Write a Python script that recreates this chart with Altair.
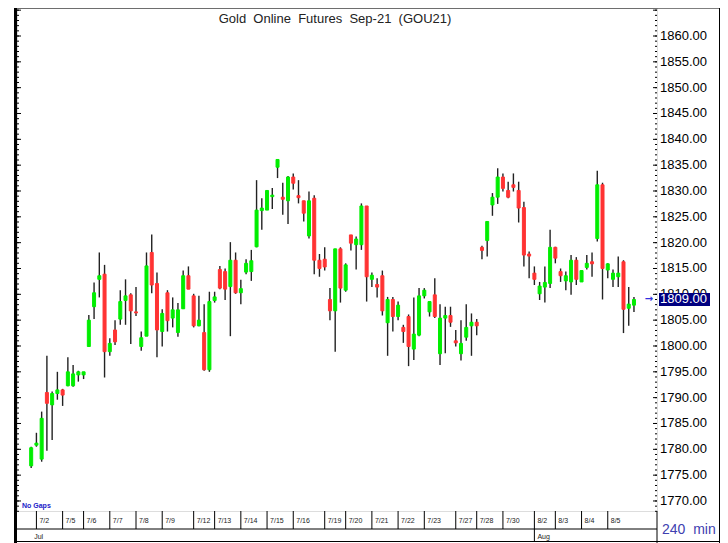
import altair as alt
import pandas as pd

# ---- data (240 min bars) ----
opens = [1776.8, 1780.8, 1778.1, 1791.0, 1788.6, 1790.8, 1791.5, 1792.3, 1792.3, 1794.4,
         1794.4, 1799.9, 1807.6, 1812.9, 1813.9, 1798.9, 1803.1, 1805.2, 1808.8, 1809.9,
         1806.6, 1799.9, 1801.9, 1818.1, 1812.1, 1802.8, 1810.3, 1805.4, 1802.6, 1807.2,
         1813.6, 1809.7, 1803.9, 1802.6, 1795.4, 1808.8, 1814.8, 1814.4, 1811.5, 1816.6,
         1810.3, 1814.3, 1814.4, 1819.2, 1826.2, 1826.3, 1828.9, 1834.6, 1828.8, 1828.1,
         1832.7, 1829.1, 1828.1, 1821.3, 1828.6, 1816.6, 1816.8, 1809.0, 1806.8, 1818.8,
         1810.8, 1821.5, 1819.6, 1819.6, 1827.1, 1812.9, 1811.9, 1813.6, 1804.5, 1809.0,
         1805.7, 1803.6, 1805.7, 1799.4, 1802.1, 1809.7, 1806.6, 1809.9, 1798.5, 1805.4,
         1805.9, 1801.0, 1798.5, 1801.7, 1803.9, 1804.6, 1819.1, 1820.4, 1827.3, 1828.8,
         1832.7, 1830.1, 1831.2, 1830.1, 1826.8, 1817.8, 1814.1, 1810.1, 1811.4, 1812.1,
         1819.1, 1814.4, 1812.6, 1812.4, 1816.6, 1812.4, 1815.2, 1816.3, 1820.8, 1831.2,
         1814.7, 1812.9, 1813.4, 1816.3, 1807.3, 1807.9]
highs = [1780.5, 1783.2, 1787.3, 1798.1, 1791.2, 1795.0, 1791.7, 1797.8, 1796.3, 1795.2,
         1795.0, 1806.0, 1812.3, 1818.1, 1815.7, 1801.5, 1805.0, 1810.8, 1812.9, 1810.2,
         1811.4, 1802.8, 1818.1, 1821.6, 1814.2, 1807.1, 1810.8, 1809.4, 1808.3, 1814.6,
         1815.4, 1810.1, 1809.7, 1808.1, 1810.5, 1810.5, 1815.5, 1815.0, 1820.1, 1818.1,
         1812.8, 1816.8, 1818.6, 1832.1, 1828.6, 1830.2, 1830.6, 1836.1, 1831.6, 1832.9,
         1833.4, 1832.1, 1828.1, 1829.9, 1829.2, 1817.8, 1819.1, 1811.2, 1818.8, 1819.1,
         1816.0, 1821.5, 1821.2, 1827.6, 1827.1, 1814.2, 1813.1, 1814.6, 1809.5, 1809.5,
         1808.6, 1804.1, 1806.1, 1809.4, 1811.2, 1811.2, 1808.6, 1813.1, 1808.1, 1807.6,
         1807.6, 1803.1, 1805.0, 1808.1, 1806.3, 1805.2, 1819.4, 1824.1, 1829.6, 1834.4,
         1833.4, 1831.8, 1833.4, 1831.8, 1827.9, 1818.3, 1815.4, 1812.4, 1815.4, 1822.5,
         1819.2, 1815.0, 1814.4, 1817.6, 1817.2, 1814.6, 1817.6, 1818.1, 1833.9, 1831.6,
         1816.0, 1814.8, 1817.3, 1816.6, 1811.4, 1809.5]
lows = [1776.4, 1780.5, 1777.6, 1779.7, 1781.8, 1789.6, 1788.4, 1792.2, 1792.1, 1793.1,
        1793.6, 1799.9, 1805.2, 1809.4, 1793.9, 1798.1, 1800.2, 1804.1, 1804.1, 1800.4,
        1805.8, 1799.1, 1801.9, 1810.2, 1797.8, 1799.9, 1802.8, 1803.6, 1801.8, 1807.2,
        1811.0, 1803.6, 1803.8, 1795.2, 1795.0, 1808.4, 1811.0, 1808.9, 1801.9, 1810.1,
        1808.1, 1813.9, 1812.6, 1819.1, 1822.5, 1826.3, 1826.5, 1832.5, 1825.4, 1823.6,
        1830.3, 1827.6, 1824.1, 1820.8, 1813.9, 1813.4, 1814.6, 1805.0, 1798.9, 1808.4,
        1810.5, 1818.5, 1814.8, 1818.6, 1808.6, 1811.4, 1809.4, 1805.9, 1798.1, 1802.8,
        1805.0, 1800.6, 1796.1, 1797.3, 1801.9, 1809.2, 1805.7, 1805.4, 1796.3, 1798.6,
        1803.7, 1799.9, 1797.2, 1801.0, 1798.1, 1802.1, 1816.8, 1817.3, 1825.2, 1827.5,
        1829.9, 1828.6, 1829.9, 1823.9, 1815.4, 1813.1, 1811.8, 1808.9, 1808.4, 1811.2,
        1816.0, 1812.4, 1810.8, 1809.9, 1811.8, 1812.4, 1814.8, 1813.4, 1820.2, 1809.0,
        1813.1, 1811.4, 1811.4, 1802.5, 1803.9, 1806.6]
closes = [1780.3, 1781.2, 1786.0, 1788.9, 1790.8, 1791.5, 1790.5, 1795.0, 1794.6, 1795.0,
          1795.0, 1805.0, 1810.3, 1813.6, 1798.9, 1800.5, 1800.8, 1808.6, 1809.7, 1806.8,
          1806.4, 1801.6, 1815.5, 1811.8, 1803.1, 1806.3, 1804.9, 1807.0, 1807.0, 1813.6,
          1811.0, 1803.9, 1805.0, 1795.4, 1808.6, 1809.5, 1811.2, 1811.0, 1816.6, 1810.3,
          1811.1, 1816.0, 1816.5, 1826.3, 1826.7, 1830.1, 1829.2, 1836.1, 1828.4, 1832.7,
          1831.5, 1828.7, 1825.7, 1828.1, 1816.6, 1815.0, 1815.3, 1806.8, 1818.8, 1811.2,
          1815.7, 1819.9, 1820.7, 1827.1, 1813.4, 1813.7, 1811.4, 1806.8, 1809.0, 1805.7,
          1807.9, 1802.8, 1799.9, 1802.3, 1809.7, 1810.8, 1808.6, 1805.7, 1805.4, 1805.9,
          1804.6, 1800.6, 1800.5, 1803.6, 1804.6, 1803.9, 1818.5, 1824.1, 1828.8, 1832.7,
          1830.5, 1828.8, 1830.7, 1826.7, 1817.6, 1817.4, 1812.9, 1811.6, 1812.3, 1819.1,
          1817.0, 1813.6, 1813.6, 1816.6, 1812.9, 1814.6, 1816.0, 1815.9, 1831.2, 1815.0,
          1815.9, 1814.1, 1814.1, 1807.1, 1808.1, 1809.0]

session_labels = ["7/2", "7/5", "7/6", "7/7", "7/8", "7/9", "7/12", "7/13", "7/14", "7/15",
                  "7/16", "7/19", "7/20", "7/21", "7/22", "7/23", "7/27", "7/28", "7/30",
                  "8/2", "8/3", "8/4", "8/5"]
session_first_bar = [1, 6, 10, 15, 20, 25, 31, 35, 40, 45, 50, 56, 60, 65, 70, 75, 81, 85,
                     90, 96, 100, 105, 110]
month_labels = ["Jul", "Aug"]
month_first_bar = [0, 96]
price_labels = list(range(1770, 1861, 5))
minor_ticks = list(range(1768, 1866))
major_ticks = list(range(1770, 1866, 5))
title_text = "Gold\u00a0 Online\u00a0 Futures\u00a0 Sep-21\u00a0 (GOU21)"
interval_text = "240\u00a0 min"
last_close = closes[-1]

GREEN = "#00ee00"
RED = "#ff3333"
FONT = "Liberation Sans"
W, H = 640, 503
BOT = 535          # bottom of the drawing, in plot pixels
ROW1 = 521         # line between the date row and the month row
RIGHT = 702.5      # outer right frame line

candles = pd.DataFrame({"i": list(range(len(opens))), "open": opens, "high": highs,
                        "low": lows, "close": closes})
sessions = pd.DataFrame({"pos": session_first_bar, "label": session_labels})
months = pd.DataFrame({"pos": month_first_bar, "label": month_labels})
minor_df = pd.DataFrame({"v": minor_ticks})
major_df = pd.DataFrame({"v": major_ticks})
labels_df = pd.DataFrame({"v": price_labels,
                          "txt": [f"{v:.2f}" for v in price_labels]})
one = pd.DataFrame({"k": [0]})
last_df = pd.DataFrame({"p": [last_close], "p_hi": [last_close + 1.25],
                        "p_lo": [last_close - 1.25],
                        "txt": [f"{last_close:.2f}"]})

xs = alt.Scale(domain=[-1.75, 118.44], nice=False, zero=False)
ys = alt.Scale(domain=[1768.06, 1865.42], nice=False, zero=False)

X = alt.X("i:Q", scale=xs, axis=None)

wicks = alt.Chart(candles).mark_rule(color="#222222", strokeWidth=1.4).encode(
    x=X,
    y=alt.Y("low:Q", scale=ys, axis=None),
    y2="high:Q",
)

color_cond = alt.condition("datum.close >= datum.open", alt.value(GREEN), alt.value(RED))
bodies = alt.Chart(candles).mark_bar(width=3, strokeWidth=1).encode(
    x=X,
    y=alt.Y("open:Q", scale=ys, axis=None),
    y2="close:Q",
    fill=color_cond,
    stroke=color_cond,
)

# price labels on the right
price_txt = alt.Chart(labels_df).mark_text(align="left", baseline="middle", fontSize=13,
                                           font=FONT, color="#000000").encode(
    x=alt.value(643), y=alt.Y("v:Q", scale=ys, axis=None), text="txt:N")

# tick marks inside the plot frame
def tick_layer(df, x1, x2):
    return alt.Chart(df).mark_rule(color="#000000", strokeWidth=1).encode(
        y=alt.Y("v:Q", scale=ys, axis=None), x=alt.value(x1), x2=alt.value(x2))

ticks = [tick_layer(minor_df, 0, 2), tick_layer(major_df, 0, 4),
         tick_layer(minor_df, W - 2, W), tick_layer(major_df, W - 4, W)]

# frame lines
def line(x1, x2, y1, y2, w=1):
    return alt.Chart(one).mark_rule(color="#000000", strokeWidth=w).encode(
        x=alt.value(x1), x2=alt.value(x2), y=alt.value(y1), y2=alt.value(y2))

frame = [
    line(-1.5, -1.5, 0, BOT, 3),
    line(-3, RIGHT, 0, 0),
    line(RIGHT, RIGHT, 0, BOT),
    line(W, W, H, BOT),
    line(-3, W, ROW1, ROW1),
    line(-3, RIGHT, BOT - 1.5, BOT - 1.5),
]

# date axis rows
sess_sep = alt.Chart(sessions).mark_rule(color="#000000", strokeWidth=1).encode(
    x=alt.X("pos:Q", scale=xs, axis=None), y=alt.value(H), y2=alt.value(ROW1))
sess_txt = alt.Chart(sessions).mark_text(align="left", baseline="middle", dx=3,
                                         fontSize=7, font=FONT, color="#222222").encode(
    x=alt.X("pos:Q", scale=xs, axis=None), y=alt.value(513), text="label:N")
month_sep = alt.Chart(months).transform_filter("datum.pos > 0").mark_rule(
    color="#000000", strokeWidth=1).encode(
    x=alt.X("pos:Q", scale=xs, axis=None), y=alt.value(ROW1), y2=alt.value(BOT - 1.5))
month_txt = alt.Chart(months).mark_text(align="left", baseline="middle", dx=3,
                                        fontSize=7, font=FONT, color="#222222").encode(
    x=alt.X("pos:Q", scale=xs, axis=None), y=alt.value(528.5), text="label:N")

title = alt.Chart(one).mark_text(fontSize=13, font=FONT, color="#222222",
                                 baseline="middle").encode(
    x=alt.value(318), y=alt.value(11), text=alt.value(title_text))
nogaps = alt.Chart(one).mark_text(fontSize=7, font=FONT, fontWeight="bold",
                                  color="#2020c8", align="left",
                                  baseline="middle").encode(
    x=alt.value(5), y=alt.value(498), text=alt.value("No Gaps"))
interval = alt.Chart(one).mark_text(fontSize=14, font=FONT, color="#4040b0",
                                    align="left", baseline="middle").encode(
    x=alt.value(645), y=alt.value(522), text=alt.value(interval_text))

last_box = alt.Chart(last_df).mark_bar(color="#000080").encode(
    x=alt.value(642), x2=alt.value(693),
    y=alt.Y("p_hi:Q", scale=ys, axis=None), y2="p_lo:Q")
last_txt = alt.Chart(last_df).mark_text(fontSize=13, font=FONT, color="#ffffff",
                                        align="left", baseline="middle").encode(
    x=alt.value(643), y=alt.Y("p:Q", scale=ys, axis=None), text="txt:N")
arrow = alt.Chart(last_df).mark_text(fontSize=10, font="DejaVu Sans", color="#3030e0",
                                     fontWeight="bold", baseline="middle").encode(
    x=alt.value(632), y=alt.Y("p:Q", scale=ys, axis=None), text=alt.value("\u2192"))

chart = alt.layer(
    wicks, bodies, price_txt, *ticks, *frame, sess_sep, sess_txt, month_sep, month_txt,
    title, nogaps, interval, last_box, last_txt, arrow,
).properties(
    width=W, height=H,
    padding={"left": 9, "top": 0, "right": 63, "bottom": BOT - H},
    autosize=alt.AutoSizeParams(type="none"),
).configure_view(stroke="#000000", strokeWidth=1).configure(background="white")

chart.save("out.html", embed_options={"renderer": "svg", "actions": False})
